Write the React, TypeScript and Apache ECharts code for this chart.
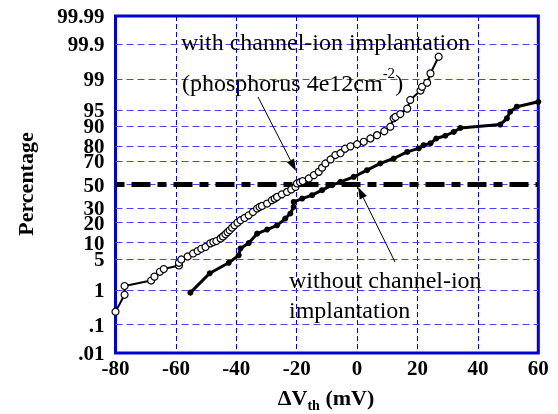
import React, { useEffect, useRef } from "react";
import * as echarts from "echarts";

// ---- data (x = ΔVth in mV, y = cumulative percentage) ----
const withImplant: [number, number][] = [
  [-80.0, 0.25], [-77.0, 0.75], [-77.0, 1.25], [-68.2, 1.7], [-67.1, 2.1], [-65.3, 2.7],
  [-64.0, 3.1], [-59.0, 3.7], [-59.0, 4.2], [-58.2, 4.9], [-56.1, 5.6], [-54.3, 6.4],
  [-52.8, 7.1], [-51.6, 7.8], [-50.2, 8.4], [-48.6, 9.7], [-47.6, 10.2], [-46.6, 10.6],
  [-45.2, 11.7], [-44.4, 12.6], [-43.6, 13.6], [-42.9, 14.6], [-42.2, 15.6], [-41.4, 17.0],
  [-40.6, 18.4], [-39.6, 20.0], [-38.6, 21.5], [-37.3, 23.0], [-35.9, 24.8], [-34.5, 27.2],
  [-33.1, 29.8], [-32.3, 31.0], [-31.5, 31.8], [-29.8, 33.7], [-28.2, 36.4], [-27.3, 37.8],
  [-26.5, 39.2], [-24.9, 41.4], [-23.2, 43.5], [-21.8, 45.7], [-20.4, 47.9], [-19.9, 50.9],
  [-18.9, 52.0], [-18.0, 53.0], [-16.0, 55.3], [-14.3, 58.2], [-12.7, 61.0], [-11.6, 64.5],
  [-10.5, 67.9], [-8.8, 71.0], [-7.2, 74.2], [-5.5, 75.5], [-4.0, 78.5], [-2.2, 80.0],
  [0.0, 81.3], [2.2, 82.7], [4.4, 84.5], [6.6, 86.2], [9.0, 88.0], [11.0, 89.9],
  [12.1, 92.8], [12.7, 93.2], [14.3, 94.0], [16.6, 95.3], [17.6, 96.9], [21.0, 98.1],
  [21.5, 98.45], [23.2, 98.76], [24.3, 99.29], [27.0, 99.76],
];

const withoutImplant: [number, number][] = [
  [-55.2, 0.85], [-48.8, 2.5], [-42.5, 4.2], [-39.2, 5.9], [-38.6, 7.9], [-35.9, 9.8],
  [-33.1, 13.9], [-29.8, 16.0], [-26.5, 18.4], [-23.8, 22.6], [-22.1, 26.1], [-21.0, 31.0],
  [-21.0, 35.0], [-18.2, 37.8], [-14.9, 40.7], [-11.6, 45.0], [-8.3, 49.4], [-5.5, 52.3],
  [-1.1, 56.7], [3.3, 62.4], [7.7, 67.9], [12.1, 71.7], [16.6, 76.4], [20.4, 78.7],
  [22.0, 80.7], [24.3, 81.8], [26.2, 84.5], [29.2, 85.9], [32.0, 87.7], [34.2, 89.4],
  [47.4, 90.7], [49.6, 92.8], [50.7, 94.6], [52.9, 95.7], [60.0, 96.6],
];

const yTickPercents = [0.01, 0.1, 1, 5, 10, 20, 30, 50, 70, 80, 90, 95, 99, 99.9, 99.99];
const yTickLabels = [".01", ".1", "1", "5", "10", "20", "30", "50", "70", "80", "90", "95", "99", "99.9", "99.99"];
const yGridPercents = [0.1, 1, 5, 10, 20, 30, 50, 70, 80, 90, 95, 99, 99.9];
const medianPercent = 50;
const xMin = -80;
const xMax = 60;
const xStep = 20;

// inverse standard normal CDF (probability-paper scale)
function probit(p: number): number {
  const a = [-3.969683028665376e1, 2.209460984245205e2, -2.759285104469687e2, 1.38357751867269e2, -3.066479806614716e1, 2.506628277459239];
  const b = [-5.447609879822406e1, 1.615858368580409e2, -1.556989798598866e2, 6.680131188771972e1, -1.328068155288572e1];
  const c = [-7.784894002430293e-3, -3.223964580411365e-1, -2.400758277161838, -2.549671348133187, 4.374664141464968, 2.938163982698783];
  const d = [7.784695709041462e-3, 3.224671290700398e-1, 2.445134137142996, 3.754408661907416];
  const pl = 0.02425;
  if (p < pl) {
    const q = Math.sqrt(-2 * Math.log(p));
    return (((((c[0] * q + c[1]) * q + c[2]) * q + c[3]) * q + c[4]) * q + c[5]) / ((((d[0] * q + d[1]) * q + d[2]) * q + d[3]) * q + 1);
  }
  if (p <= 1 - pl) {
    const q = p - 0.5;
    const r = q * q;
    return ((((((a[0] * r + a[1]) * r + a[2]) * r + a[3]) * r + a[4]) * r + a[5]) * q) / (((((b[0] * r + b[1]) * r + b[2]) * r + b[3]) * r + b[4]) * r + 1);
  }
  const q = Math.sqrt(-2 * Math.log(1 - p));
  return -(((((c[0] * q + c[1]) * q + c[2]) * q + c[3]) * q + c[4]) * q + c[5]) / ((((d[0] * q + d[1]) * q + d[2]) * q + d[3]) * q + 1);
}
const toZ = (pct: number) => probit(pct / 100);

const FONT = '"Liberation Serif", "Times New Roman", serif';

function arrow(x1: number, y1: number, x2: number, y2: number) {
  const dx = x2 - x1;
  const dy = y2 - y1;
  const len = Math.sqrt(dx * dx + dy * dy);
  const ux = dx / len;
  const uy = dy / len;
  const hl = 12;
  const hw = 4;
  const bx = x2 - ux * hl;
  const by = y2 - uy * hl;
  return [
    { type: "line", shape: { x1, y1, x2: bx, y2: by }, style: { stroke: "#000", lineWidth: 1 }, z: 20 },
    {
      type: "polygon",
      shape: { points: [[x2, y2], [bx - uy * hw, by + ux * hw], [bx + uy * hw, by - ux * hw]] },
      style: { fill: "#000" },
      z: 20,
    },
  ];
}

export default function App() {
  const ref = useRef<HTMLDivElement>(null);
  useEffect(() => {
    if (!ref.current) return;
    const chart = echarts.init(ref.current, undefined, { renderer: "svg" });
    const yTickZ = yTickPercents.map(toZ);
    const yMinZ = toZ(yTickPercents[0]);
    const yMaxZ = toZ(yTickPercents[yTickPercents.length - 1]);

    const gridLines = yGridPercents.map((p) => ({
      yAxis: toZ(p),
      lineStyle: { color: "#4848e8", width: 1, type: [7, 4] },
    }));
    const medianLine = {
      yAxis: toZ(medianPercent),
      lineStyle: { color: "#000", width: 5, type: [9, 7, 19, 7] },
    };

    chart.setOption({
      animation: false,
      textStyle: { fontFamily: FONT },
      grid: {
        left: 115.5,
        right: 19.7,
        top: 16,
        bottom: 61,
        show: true,
        borderColor: "#0000d0",
        borderWidth: 3,
        backgroundColor: "transparent",
        containLabel: false,
      },
      xAxis: {
        type: "value",
        min: xMin,
        max: xMax,
        interval: xStep,
        axisLine: { show: false },
        axisTick: { show: false },
        axisLabel: { fontFamily: FONT, fontWeight: "bold", fontSize: 21, color: "#000", margin: 4 },
        splitLine: { show: true, lineStyle: { color: "#0000e8", width: 1, type: [5, 3] } },
      },
      yAxis: {
        type: "value",
        min: yMinZ,
        max: yMaxZ,
        axisLine: { show: false },
        axisTick: { show: false },
        splitLine: { show: false },
        axisLabel: {
          customValues: yTickZ,
          fontFamily: FONT,
          fontWeight: "bold",
          fontSize: 21,
          color: "#000",
          margin: 11,
          formatter: (v: number) => {
            const i = yTickZ.findIndex((z) => Math.abs(z - v) < 1e-6);
            return i >= 0 ? yTickLabels[i] : "";
          },
        },
      },
      series: [
        {
          type: "line",
          data: [],
          silent: true,
          markLine: {
            silent: true,
            z: 1,
            symbol: ["none", "none"],
            label: { show: false },
            emphasis: { disabled: true },
            data: [...gridLines, medianLine],
          },
        },
        {
          name: "without",
          type: "line",
          z: 3,
          data: withoutImplant.map(([x, p]) => [x, toZ(p)]),
          symbol: "circle",
          symbolSize: 6,
          itemStyle: { color: "#000", borderColor: "#000", borderWidth: 0 },
          lineStyle: { color: "#000", width: 3 },
          silent: true,
        },
        {
          name: "with",
          type: "line",
          z: 4,
          data: withImplant.map(([x, p]) => [x, toZ(p)]),
          symbol: "circle",
          symbolSize: 7,
          itemStyle: { color: "#fff", borderColor: "#000", borderWidth: 1.2 },
          lineStyle: { color: "#000", width: 2 },
          silent: true,
        },
      ],
      graphic: [
        {
          type: "text",
          x: 181,
          y: 42,
          z: 20,
          style: { text: "with channel-ion implantation", font: `24px ${FONT}`, fill: "#000", verticalAlign: "middle" },
        },
        {
          type: "text",
          x: 182,
          y: 83,
          z: 20,
          style: {
            text: "{a|(phosphorus 4e12cm}{s|-2}{a|)}",
            verticalAlign: "middle",
            rich: {
              a: { fontFamily: FONT, fontSize: 24, lineHeight: 26, fill: "#000" },
              s: { fontFamily: FONT, fontSize: 15, lineHeight: 15, padding: [0, 0, 20, 0], fill: "#000" },
            },
          },
        },
        {
          type: "text",
          x: 289,
          y: 280,
          z: 20,
          style: { text: "without channel-ion", font: `24px ${FONT}`, fill: "#000", verticalAlign: "middle" },
        },
        {
          type: "text",
          x: 289,
          y: 310,
          z: 20,
          style: { text: "implantation", font: `24px ${FONT}`, fill: "#000", verticalAlign: "middle" },
        },
        ...arrow(258, 97, 296, 171),
        ...arrow(395, 262, 358, 187),
        {
          type: "text",
          x: 326,
          y: 397,
          z: 20,
          style: {
            text: "{a|ΔV}{s|th}{a| (mV)}",
            align: "center",
            verticalAlign: "middle",
            rich: {
              a: { fontFamily: FONT, fontWeight: "bold", fontSize: 22, lineHeight: 24, fill: "#000" },
              s: { fontFamily: FONT, fontWeight: "bold", fontSize: 14, lineHeight: 14, padding: [17, 0, 0, 0], fill: "#000" },
            },
          },
        },
        {
          type: "text",
          x: 25,
          y: 184,
          rotation: Math.PI / 2,
          z: 20,
          style: {
            text: "Percentage",
            font: `bold 22px ${FONT}`,
            fill: "#000",
            align: "center",
            verticalAlign: "middle",
          },
        },
      ],
    });
    return () => chart.dispose();
  }, []);
  return <div ref={ref} style={{ position: "fixed", left: 0, top: 0, width: 558, height: 414 }} />;
}
